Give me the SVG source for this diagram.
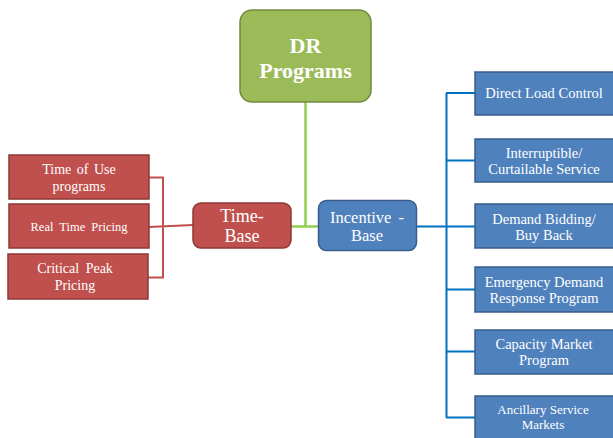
<svg xmlns="http://www.w3.org/2000/svg" width="613" height="438" viewBox="0 0 613 438">
<style>
text{font-family:"Liberation Serif","Times New Roman","DejaVu Serif",serif;fill:#fff;text-anchor:middle}
.g{fill:#9BBB59;stroke:#71893F;stroke-width:1.5}
.r{fill:#C0504D;stroke:#8C3836;stroke-width:1.5}
.b{fill:#4F81BD;stroke:#385D8A;stroke-width:1.5}
.cg{stroke:#92D050;stroke-width:2.5;fill:none}
.cr{stroke:#C0504D;stroke-width:2;fill:none}
.cb{stroke:#0070C0;stroke-width:2;fill:none}
</style>
<rect width="613" height="438" fill="#fff"/>
<g id="connectors">
<path class="cg" d="M305.5 102V226.5M291 226.5H319"/>
<path class="cr" d="M149 177.5H163V277.5H148M149 227L193 225"/>
<path class="cb" d="M417 226.5H446M446.5 93V417.5M446 93H475M446 160.5H475M446 226.5H475M446 289.5H475M446 351.5H475M446 417.5H475"/>
</g>
<g id="dr">
<rect class="g" x="240" y="10" width="131" height="92" rx="12"/>
<text x="305.5" y="53" font-size="22" font-weight="bold">DR</text>
<text x="305.5" y="78" font-size="22" font-weight="bold">Programs</text>
</g>
<g id="timebase">
<rect class="r" x="193" y="203" width="98" height="45" rx="8"/>
<text x="242" y="222" font-size="18">Time-</text>
<text x="242" y="242" font-size="18">Base</text>
</g>
<g id="incentive">
<rect class="b" x="318.5" y="200.5" width="98" height="50" rx="8"/>
<text x="367" y="223" font-size="16.5" word-spacing="3">Incentive -</text>
<text x="367" y="241" font-size="16.5">Base</text>
</g>
<g id="tou">
<rect class="r" x="9" y="155" width="140" height="44"/>
<text x="79" y="174" font-size="14" word-spacing="2">Time of Use</text>
<text x="79" y="191" font-size="14">programs</text>
</g>
<g id="rtp">
<rect class="r" x="9" y="204" width="140" height="44"/>
<text x="79" y="231" font-size="12.5" word-spacing="3">Real Time Pricing</text>
</g>
<g id="cpp">
<rect class="r" x="8" y="254" width="140" height="45"/>
<text x="75" y="273" font-size="14" word-spacing="3">Critical Peak</text>
<text x="75" y="290" font-size="14">Pricing</text>
</g>
<g id="dlc">
<rect class="b" x="475" y="72" width="142" height="43"/>
<text x="544" y="98" font-size="14.5">Direct Load Control</text>
</g>
<g id="ics">
<rect class="b" x="475" y="139" width="142" height="43"/>
<text x="544" y="158" font-size="14.5">Interruptible/</text>
<text x="544" y="174" font-size="14.5">Curtailable Service</text>
</g>
<g id="dbb">
<rect class="b" x="475" y="204" width="142" height="44"/>
<text x="544" y="224" font-size="14.5">Demand Bidding/</text>
<text x="544" y="240" font-size="14.5">Buy Back</text>
</g>
<g id="edrp">
<rect class="b" x="475" y="267" width="142" height="45"/>
<text x="544" y="287" font-size="14.5">Emergency Demand</text>
<text x="544" y="303" font-size="14.5">Response Program</text>
</g>
<g id="cmp">
<rect class="b" x="475" y="330" width="142" height="44"/>
<text x="544" y="349" font-size="14.5">Capacity Market</text>
<text x="544" y="365" font-size="14.5">Program</text>
</g>
<g id="asm">
<rect class="b" x="475" y="396" width="142" height="45"/>
<text x="543" y="414" font-size="13">Ancillary Service</text>
<text x="543" y="429" font-size="13">Markets</text>
</g>
</svg>
